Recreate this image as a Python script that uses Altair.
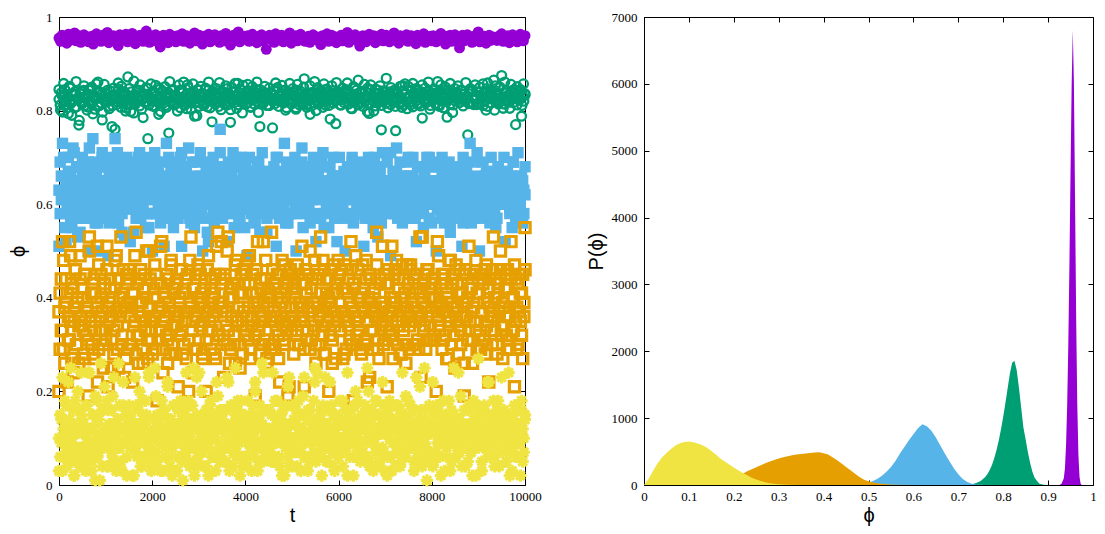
import altair as alt
import numpy as np
import pandas as pd

# ---------------- left panel: time series phi(t) ----------------
# purple, in thousandths
purple_phi = [
955,948,961,952,958,944,963,950,957,953,966,949,956,960,946,954,962,951,958,947,
953,959,942,957,964,950,955,948,961,956,952,967,945,958,953,960,949,956,939,962,
951,957,954,963,947,959,952,965,955,943,958,950,961,954,948,957,970,953,946,960,
956,949,962,953,958,936,955,961,950,957,945,963,952,959,954,947,960,956,951,964,
948,955,960,952,944,958,953,966,949,957,961,955,942,959,950,956,963,947,954,958,
962,951,957,946,960,954,949,965,953,958,940,956,961,950,955,968,947,957,952,959,
954,960,948,956,963,951,957,945,959,953,962,949,955,931,958,961,952,957,946,964,
950,957,953,961,947,955,959,952,966,944,958,954,960,949,956,963,951,957,948,955,
959,946,956,962,952,958,950,955,941,960,953,957,964,948,955,961,951,958,945,956,
953,961,949,957,955,967,946,959,952,956,962,950,954,938,958,960,953,947,957,963,
957,952,960,945,955,958,951,963,949,956,961,954,947,959,953,966,950,957,944,960,
951,958,954,962,948,956,960,952,957,943,961,955,950,958,964,946,956,953,959,949,
960,955,947,958,953,965,951,957,942,959,954,961,948,956,962,952,957,934,955,961,
949,956,962,951,958,946,955,960,953,968,947,957,952,959,944,956,961,950,958,954,
956,950,959,953,964,948,957,952,960,945,955,962,951,958,947,956,963,953,949,960]

# green, in thousandths (two interleaved samplings)
green_phi_a = [
824,812,838,797,831,845,819,806,828,852,815,790,834,822,841,808,826,769,837,818,
829,843,811,826,801,835,820,848,814,793,832,824,857,809,827,839,816,780,830,821,
836,818,827,804,842,823,811,833,760,828,819,846,825,807,838,815,831,799,822,872,
813,829,840,821,795,834,817,826,844,810,832,823,785,836,819,828,847,812,825,838,
820,837,808,831,824,849,815,798,829,841,822,811,835,826,752,833,818,843,827,814,
832,816,825,843,806,828,839,821,812,834,855,819,827,803,838,824,816,830,789,845,
817,830,822,836,811,825,846,808,833,820,829,776,841,823,814,837,826,809,831,822,
839,821,813,828,847,819,834,802,826,840,817,831,824,858,812,829,836,795,821,833,
825,842,818,831,807,836,823,814,829,845,820,833,766,827,840,816,825,838,811,830,
811,828,837,820,833,815,826,849,809,831,823,842,818,828,801,835,822,839,826,814,
834,819,831,806,843,824,812,836,828,818,868,826,813,833,821,792,838,825,817,829,
822,838,814,829,825,840,807,832,819,846,827,811,835,824,842,816,830,772,823,837,
828,812,834,823,817,837,829,843,814,826,805,831,820,848,825,836,812,827,839,818,
841,826,819,832,798,828,845,815,830,821,837,810,826,844,818,829,759,833,822,840,
816,831,825,840,813,822,836,827,809,842,824,831,817,828,853,812,835,826,804,830,
830,819,843,808,827,835,821,846,814,830,826,784,839,823,816,832,825,841,811,828,
823,837,815,830,826,812,841,820,833,806,829,845,819,825,837,814,828,796,832,821,
839,824,832,817,844,826,810,835,822,829,748,836,818,843,827,813,831,824,840,815,
818,833,827,811,836,821,847,809,828,838,816,830,825,801,842,823,834,819,827,875,
827,814,838,825,819,833,805,841,826,817,830,838,812,829,822,845,788,831,820,836]
green_phi_b = [
845,801,832,858,812,826,794,848,819,837,806,862,823,779,841,815,853,830,808,844,
817,850,828,803,839,861,811,834,797,856,822,843,809,831,766,848,825,813,859,836,
852,819,840,806,833,847,798,828,863,814,842,821,855,803,836,818,849,740,829,857,
810,838,854,825,792,846,831,816,851,807,839,862,820,845,812,833,799,855,827,843,
861,826,804,849,835,818,857,788,832,844,809,852,837,815,848,826,861,806,839,820,
833,847,819,860,802,841,827,853,812,836,775,849,823,858,805,832,846,818,854,829,
814,856,842,808,851,824,839,861,796,845,830,817,852,836,811,848,826,763,843,859,
848,821,835,854,816,844,806,831,858,822,847,838,803,856,828,841,813,850,834,807,
826,853,810,839,862,800,849,818,843,835,857,812,845,825,782,853,837,821,860,840,
839,812,848,827,845,859,816,836,804,851,823,844,865,817,838,809,856,830,848,794,
855,834,799,846,820,837,853,811,842,828,869,806,834,849,820,843,757,839,816,852,
807,842,857,818,852,830,813,858,826,847,815,838,810,855,832,848,822,861,803,837,
844,825,838,862,809,855,835,820,850,786,840,858,827,812,847,836,853,818,842,827,
821,860,831,815,847,841,826,855,813,839,850,824,857,839,801,859,829,844,836,865,
853,837,814,850,829,805,861,843,832,818,856,831,845,770,851,826,840,811,857,833]

# blue, in hundredths
blue_phi_a = [
63,58,66,61,70,55,64,60,67,62,57,65,72,59,63,68,53,61,64,60,
66,61,59,64,57,69,62,65,60,74,58,63,67,56,62,65,61,70,59,64,
60,65,62,56,68,63,59,66,61,64,71,58,62,67,54,63,60,65,62,69,
64,59,67,62,60,65,57,63,70,61,66,59,64,62,68,58,63,55,66,61,
58,63,61,69,64,60,66,62,59,65,63,57,73,61,64,60,67,62,58,65,
67,62,64,59,63,71,58,65,61,66,60,64,62,56,69,63,59,65,61,63,
61,66,57,64,62,60,67,63,52,65,61,68,59,64,62,66,60,63,71,58,
63,60,65,61,68,62,59,64,66,58,63,61,70,62,65,57,64,60,66,62,
65,59,62,67,60,64,63,57,66,62,69,60,64,61,58,65,63,67,54,64,
59,64,61,65,63,58,70,62,60,66,64,59,62,67,61,63,56,65,62,68,
62,67,60,63,58,65,61,64,72,59,63,66,60,62,65,58,64,61,67,63,
64,58,66,62,61,69,63,55,65,61,64,60,68,63,59,66,62,64,60,57,
60,63,65,59,67,62,64,61,58,66,63,70,61,65,62,60,64,58,66,62,
66,61,57,64,63,60,66,62,68,59,65,63,61,53,64,67,62,60,65,61,
63,65,62,60,71,64,58,63,61,67,62,59,65,63,60,66,57,64,62,69,
58,64,63,66,61,57,65,62,64,60,68,63,59,66,62,64,61,70,63,60,
65,60,68,62,59,64,63,61,66,58,62,65,60,64,67,56,63,61,65,62,
61,66,59,63,65,62,56,68,60,64,61,63,73,62,58,65,63,60,66,64,
64,62,65,58,63,61,67,60,64,62,59,66,61,63,55,64,68,62,60,65,
60,63,61,67,62,65,59,64,63,69,61,57,64,62,66,60,63,65,58,62]
blue_phi_b = [
51,69,61,73,58,66,52,64,70,59,67,55,62,71,57,65,60,68,54,63,
70,57,64,60,67,50,72,61,58,69,63,56,66,50,68,59,62,71,57,65,
61,68,49,66,59,70,63,57,74,60,65,56,69,62,58,67,53,64,70,59,
67,52,63,69,54,61,68,58,65,71,57,62,60,66,55,70,64,58,67,62,
50,65,71,58,63,67,60,56,69,62,51,66,59,64,70,57,68,61,55,66,
69,60,57,64,70,51,65,62,58,68,61,72,57,63,66,59,55,69,62,58,
62,71,59,50,66,61,69,54,64,57,67,60,70,56,62,65,58,68,76,60,
57,63,67,61,52,69,58,65,60,71,55,64,62,68,57,61,70,59,66,55,
68,49,62,70,60,58,66,63,56,67,59,69,54,62,71,58,64,60,57,67,
59,66,58,63,68,62,51,70,61,57,64,66,60,73,56,69,61,65,58,63,
65,58,70,50,62,67,59,61,69,55,62,58,67,63,60,56,68,62,70,57,
52,67,61,69,57,64,71,58,63,60,68,55,65,59,66,70,57,62,52,66,
70,59,64,58,66,50,62,68,57,65,61,69,56,64,58,63,67,60,69,58,
63,51,68,62,59,70,57,64,66,55,70,60,63,57,68,62,56,71,59,64,
58,69,60,65,49,63,67,61,58,72,57,64,69,62,56,66,60,58,65,70,
66,62,57,70,64,59,52,68,62,60,65,58,55,67,61,70,63,57,68,56,
60,65,69,50,61,68,63,57,70,64,56,62,66,60,69,54,65,61,58,67,
68,57,62,66,59,51,70,63,61,67,58,65,60,56,64,69,57,62,71,60,
50,64,60,69,57,66,61,58,65,56,70,62,67,59,63,57,68,64,60,66,
63,70,52,61,67,62,58,66,55,69,60,64,57,71,62,59,66,56,63,68]

# orange, in hundredths
orange_phi_a = [
37,29,44,33,48,26,39,41,31,52,35,43,24,38,46,30,40,34,49,36,
42,33,27,45,38,31,50,36,41,28,44,35,39,22,47,33,40,37,30,43,
31,46,38,35,42,25,40,33,48,37,29,44,36,53,32,41,38,27,45,39,
44,36,30,41,34,49,28,43,37,32,46,39,26,42,35,50,31,38,44,33,
35,40,47,29,43,37,33,51,38,24,41,36,45,31,39,28,47,34,42,37,
28,43,36,39,32,46,41,30,35,44,37,20,48,38,33,42,29,45,36,40,
46,34,41,27,38,44,31,37,49,35,42,33,40,28,45,37,54,32,39,43,
39,31,45,37,50,33,26,42,36,40,30,47,35,43,38,25,41,34,46,32,
33,48,38,43,29,36,45,39,32,41,52,34,37,44,30,39,35,48,27,42,
41,35,29,46,37,42,33,40,27,45,36,39,31,47,42,34,43,21,38,45,
36,44,40,32,47,30,39,35,43,38,29,46,41,33,37,50,31,44,39,34,
30,39,45,36,41,34,48,28,38,44,35,40,32,46,26,41,37,43,35,48,
45,33,37,42,28,47,36,41,34,39,46,30,43,37,49,32,40,36,29,41,
38,42,31,48,35,40,23,44,37,33,41,38,47,29,36,43,34,51,38,31,
43,36,46,33,40,37,31,45,39,48,34,42,28,40,35,44,38,30,47,36,
34,47,39,30,44,35,42,37,29,41,36,53,33,45,38,31,46,40,34,42,
40,32,43,38,36,49,33,39,45,31,44,37,41,27,48,35,39,43,32,45,
47,38,34,41,30,43,39,26,46,36,40,33,42,37,31,45,35,48,41,29,
32,45,37,44,39,28,47,35,42,38,33,46,36,40,44,30,41,37,50,34,
39,34,42,36,46,31,38,44,33,40,47,35,29,43,37,41,32,45,36,55]
orange_phi_b = [
20,41,33,52,29,38,44,22,36,31,49,27,42,35,46,30,39,26,44,34,
40,28,45,32,37,19,53,35,30,43,27,41,38,51,29,36,45,33,25,42,
33,51,21,39,44,31,36,28,42,49,34,25,40,37,30,46,23,38,43,29,
46,30,38,22,41,35,54,32,26,39,44,36,29,45,33,40,27,50,35,31,
28,42,36,45,18,38,31,43,52,29,35,40,32,26,44,37,48,30,41,34,
43,34,21,40,46,33,28,37,41,27,45,31,39,53,35,24,42,36,29,47,
31,45,39,28,35,42,20,46,33,38,29,44,36,41,27,51,32,39,45,52,
38,23,44,34,30,53,40,29,36,43,32,26,48,35,41,30,45,28,37,43,
45,36,31,49,27,34,41,38,19,46,39,33,28,42,36,52,31,44,26,38,
30,40,54,35,43,29,36,45,32,22,41,48,34,30,38,44,19,35,46,33,
42,28,35,41,33,45,30,39,51,36,21,43,31,38,45,29,42,37,33,48,
26,44,38,30,53,37,32,46,28,41,35,20,44,39,31,47,34,27,43,36,
39,33,46,27,36,42,29,35,44,31,52,38,18,42,35,30,46,33,40,28,
47,37,30,44,22,39,45,33,38,29,42,36,54,31,27,44,39,35,30,45,
34,21,43,37,32,51,27,40,46,35,30,44,37,28,47,33,41,26,38,43,
29,46,35,41,38,30,45,31,36,53,23,39,43,34,29,46,36,42,31,37,
44,31,40,20,52,34,38,43,29,37,45,32,27,40,36,48,30,44,38,25,
35,43,28,46,33,41,36,19,45,39,31,51,35,42,26,38,45,33,29,44,
41,29,37,43,31,46,34,39,22,44,36,30,53,33,40,28,43,37,46,32,
27,38,45,32,42,36,29,52,40,33,21,44,38,30,45,35,41,27,39,46]

# yellow, in hundredths
yellow_phi_a = [
10,6,14,3,12,18,8,11,22,5,13,9,16,2,11,7,20,12,4,15,
8,13,5,17,10,24,7,12,3,15,9,19,11,6,14,1,10,16,8,21,
12,4,16,9,11,7,19,13,5,10,14,26,8,12,3,17,9,11,6,13,
15,9,11,2,13,8,17,6,12,20,10,4,14,9,18,11,7,23,10,5,
7,14,10,19,5,12,9,15,11,3,16,8,12,21,6,10,14,2,13,9,
11,17,6,12,9,14,1,10,16,7,13,18,5,11,9,25,12,8,15,4,
9,12,20,7,15,10,4,13,8,17,11,6,14,10,3,12,19,9,16,7,
14,5,11,16,8,22,12,9,13,4,10,15,7,18,11,2,14,10,6,12,
6,13,9,14,11,3,17,10,20,8,12,5,15,9,13,24,7,11,16,10,
12,8,15,5,10,18,9,13,6,11,14,2,16,10,8,12,21,4,13,9,
17,10,7,13,4,11,15,8,12,19,6,10,14,3,11,16,9,13,7,22,
5,11,14,9,16,7,12,10,23,5,13,8,11,17,9,4,12,15,10,6,
13,7,10,18,8,14,11,2,12,9,16,10,6,13,20,8,11,14,5,12,
9,15,12,6,11,20,4,13,9,15,10,7,18,12,5,11,14,8,17,3,
11,6,16,10,13,3,14,9,12,7,17,11,4,15,10,13,6,19,9,12,
15,10,8,12,5,16,10,13,8,21,11,6,12,9,14,1,11,16,7,13,
4,12,11,17,9,13,6,15,10,12,3,14,8,11,18,10,5,12,15,9,
13,8,14,7,19,11,9,12,4,10,16,13,7,11,2,14,9,17,10,27,
10,14,5,12,16,8,11,22,7,13,9,15,11,6,12,10,18,4,14,11,
7,11,13,9,15,12,2,10,14,8,17,11,6,13,9,12,16,5,10,14]
yellow_phi_b = [
3,15,9,23,6,12,17,4,10,14,25,7,13,2,18,11,5,16,8,24,
14,6,11,3,17,9,24,12,5,15,8,1,13,18,7,10,26,4,16,11,
9,18,4,13,10,16,6,23,11,3,14,8,17,5,12,22,9,15,2,13,
17,8,14,11,2,23,7,12,16,9,4,18,10,13,6,15,11,24,8,3,
5,12,25,7,15,10,13,3,18,11,16,6,9,22,14,4,12,8,17,10,
13,3,16,10,18,5,11,15,7,24,9,12,4,14,17,8,2,13,23,6,
24,11,7,14,4,13,16,9,2,12,18,10,15,6,11,22,7,14,5,16,
8,16,12,5,23,9,3,17,13,7,11,25,6,16,9,13,18,4,12,15,
11,4,18,13,8,15,10,6,22,14,3,13,17,8,26,5,10,16,12,7,
16,9,5,24,12,6,14,18,10,4,15,9,12,2,17,11,6,23,13,8,
4,14,10,16,7,18,12,3,15,9,23,6,11,16,5,14,9,12,18,25,
12,24,6,11,15,2,17,10,8,13,5,16,22,10,7,15,3,11,14,9,
18,7,13,4,10,16,8,24,11,6,14,12,2,17,10,13,18,6,9,15,
7,13,17,9,25,11,5,14,16,3,10,18,8,12,15,4,11,22,7,13,
15,2,11,18,6,14,9,12,4,17,8,13,16,5,24,10,14,7,12,18,
10,17,8,13,3,12,23,6,14,11,16,4,10,25,8,13,5,17,11,6,
22,5,15,7,12,17,10,2,13,18,9,15,6,11,14,3,16,9,25,12,
6,11,24,14,8,4,13,16,9,12,5,17,13,7,10,18,12,2,15,8,
14,9,3,11,17,10,15,7,22,6,13,10,18,4,12,16,8,14,11,23,
8,16,12,5,14,24,7,11,3,15,10,6,17,13,9,2,18,12,7,15]

t_ticks = [0, 2000, 4000, 6000, 8000, 10000]
phi_ticks_left = [0, 0.2, 0.4, 0.6, 0.8, 1]

# ---------------- right panel: histograms P(phi) ----------------
yellow_hx = [0,.01,.02,.03,.04,.05,.06,.07,.08,.09,.10,.11,.12,.13,.14,.15,.16,.17,.18,.19,.20,
             .21,.22,.23,.24,.25,.26,.27,.28,.29,.30,.32,.35]
yellow_hp = [0,90,210,320,410,480,540,590,625,645,650,640,620,595,560,510,455,395,350,305,260,
             220,180,145,110,82,60,42,28,18,11,4,0]

orange_hx = [.15,.17,.19,.20,.21,.22,.23,.24,.25,.26,.27,.28,.29,.30,.31,.32,.33,.34,.35,.36,.37,.38,.39,
             .40,.41,.42,.43,.44,.45,.46,.47,.48,.49,.50,.51,.52,.53,.54,.56,.60]
orange_hp = [0,25,70,100,135,170,205,235,265,295,325,350,375,395,415,430,445,455,465,472,480,487,490,
             475,455,415,370,320,270,220,170,120,80,55,38,26,17,11,5,0]

blue_hx = [.48,.49,.50,.51,.52,.53,.54,.55,.56,.57,.58,.59,.60,.61,.62,.63,.64,.65,.66,.67,.68,.69,.70,
           .71,.72,.73,.74,.76]
blue_hp = [0,10,30,60,95,140,200,270,360,470,570,670,760,850,910,880,810,710,590,470,360,250,160,
           90,45,20,8,0]

green_hx = [.72,.73,.74,.75,.76,.765,.77,.775,.78,.785,.79,.795,.80,.805,.81,.815,.82,.825,.83,.835,.84,
            .845,.85,.855,.86,.865,.87,.875,.88,.89,.90]
green_hp = [0,12,30,60,120,165,225,300,400,520,660,830,1020,1230,1450,1670,1830,1860,1720,1460,1160,
            860,680,490,330,200,110,65,22,5,0]

purple_hx = [.925,.93,.935,.9375,.94,.9425,.945,.9475,.95,.9525,.955,.9575,.96,.9625,.965,.9675,.97,.9725,.975]
purple_hp = [0,20,100,250,600,1200,2100,3300,4700,6000,6800,6000,4300,2500,1200,450,120,20,0]

phi_ticks_right = [0, 0.1, 0.2, 0.3, 0.4, 0.5, 0.6, 0.7, 0.8, 0.9, 1]
p_ticks = [0, 1000, 2000, 3000, 4000, 5000, 6000, 7000]

PURPLE, GREEN, BLUE, ORANGE, YELLOW = "#9400d3", "#009e73", "#56b4e9", "#e69f00", "#f0e442"

TICK = 5
PLOT_H = 468


def ax(orient, values, title=None, labels=True, title_pad=4, label_pad=7, mirror=False):
    kw = dict(orient=orient, values=values, offset=-TICK, tickSize=TICK,
              domain=False, grid=False, labels=labels, labelOverlap=False,
              labelFlush=False, labelPadding=label_pad, titlePadding=title_pad,
              labelExpr="'' + datum.value", title=title)
    if mirror:
        kw.update(minExtent=0, maxExtent=0)
    return alt.Axis(**kw)


# ---- left chart ----
sx_l = alt.Scale(domain=[0, 10000], nice=False, zero=False)
sy_l = alt.Scale(domain=[0, 1], nice=False, zero=False)


def ts_df(lists, scale):
    frames = []
    for vals in lists:
        n = len(vals)
        frames.append(pd.DataFrame({"t": np.linspace(0, 10000, n),
                                    "phi": np.array(vals, dtype=float) / scale}))
    return pd.concat(frames, ignore_index=True)


asterisk = "M-1,0L1,0M0,-1L0,1M-0.7,-0.7L0.7,0.7M-0.7,0.7L0.7,-0.7"

series_left = [
    (ts_df([purple_phi], 1000), dict(shape="circle", filled=True, color=PURPLE, size=120, opacity=1)),
    (ts_df([green_phi_a, green_phi_b], 1000),
     dict(shape="circle", filled=False, color=GREEN, size=80, strokeWidth=2.3, opacity=1)),
    (ts_df([blue_phi_a, blue_phi_b], 100), dict(shape="square", filled=True, color=BLUE, size=130, opacity=1)),
    (ts_df([orange_phi_a, orange_phi_b], 100),
     dict(shape="square", filled=False, color=ORANGE, size=105, strokeWidth=3.2, opacity=1)),
    (ts_df([yellow_phi_a, yellow_phi_b], 100),
     dict(shape=asterisk, filled=False, color=YELLOW, size=150, strokeWidth=3.2, opacity=1)),
]

left_layers = []
for i, (df, style) in enumerate(series_left):
    if i == 0:
        xa = ax("bottom", t_ticks, title="t", title_pad=2, label_pad=5)
        ya = ax("left", phi_ticks_left, title="ϕ", title_pad=7, label_pad=7)
    else:
        xa = None
        ya = None
    left_layers.append(
        alt.Chart(df).mark_point(**style).encode(
            x=alt.X("t:Q", scale=sx_l, axis=xa),
            y=alt.Y("phi:Q", scale=sy_l, axis=ya),
        )
    )

mirror_l = alt.Chart(pd.DataFrame({"t": [0], "phi": [0]})).mark_point(opacity=0).encode(
    x=alt.X("t:Q", scale=sx_l, axis=ax("top", t_ticks, labels=False, mirror=True)),
    y=alt.Y("phi:Q", scale=sy_l, axis=ax("right", phi_ticks_left, labels=False, mirror=True)),
)

left = alt.layer(*left_layers, mirror_l).resolve_axis(x="independent", y="independent").properties(
    width=466, height=PLOT_H)

# ---- right chart ----
sx_r = alt.Scale(domain=[0, 1], nice=False, zero=False)
sy_r = alt.Scale(domain=[0, 7000], nice=False, zero=False)

hists = [
    (purple_hx, purple_hp, PURPLE),
    (green_hx, green_hp, GREEN),
    (blue_hx, blue_hp, BLUE),
    (orange_hx, orange_hp, ORANGE),
    (yellow_hx, yellow_hp, YELLOW),
]

right_layers = []
for i, (hx, hp, col) in enumerate(hists):
    if i == 0:
        xa = ax("bottom", phi_ticks_right, title="ϕ", title_pad=2, label_pad=5)
        ya = ax("left", p_ticks, title="P(ϕ)", title_pad=5, label_pad=7)
    else:
        xa = None
        ya = None
    right_layers.append(
        alt.Chart(pd.DataFrame({"phi": hx, "p": hp})).mark_area(
            color=col, opacity=1, interpolate="linear").encode(
            x=alt.X("phi:Q", scale=sx_r, axis=xa),
            y=alt.Y("p:Q", scale=sy_r, axis=ya, stack=None),
        )
    )

mirror_r = alt.Chart(pd.DataFrame({"phi": [0], "p": [0]})).mark_point(opacity=0).encode(
    x=alt.X("phi:Q", scale=sx_r, axis=ax("top", phi_ticks_right, labels=False, mirror=True)),
    y=alt.Y("p:Q", scale=sy_r, axis=ax("right", p_ticks, labels=False, mirror=True)),
)

right = alt.layer(*right_layers, mirror_r).resolve_axis(x="independent", y="independent").properties(
    width=449, height=PLOT_H)

chart = alt.hconcat(left, right, spacing=119, bounds="flush").properties(
    padding={"left": 0, "top": 2, "right": 0, "bottom": 0}
).configure_view(
    stroke="black", strokeWidth=1
).configure_axis(
    labelFont="Liberation Sans Narrow",
    labelFontSize=13,
    labelColor="black",
    tickColor="black",
    tickWidth=1,
    titleFont="Liberation Sans",
    titleFontSize=20,
    titleFontWeight="normal",
    titleColor="black",
)

chart.save("out.html", embed_options={"renderer": "svg", "actions": False})
